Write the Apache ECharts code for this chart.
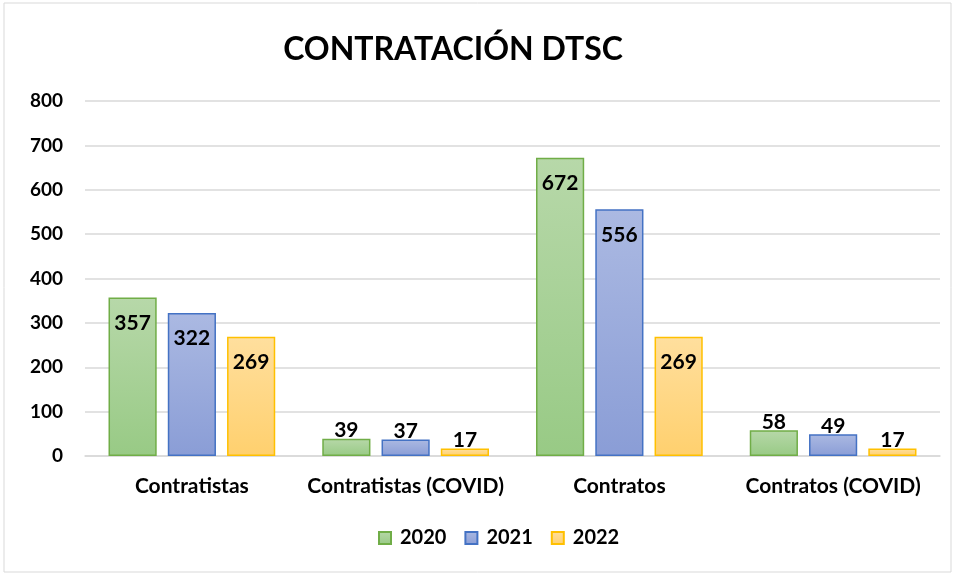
<!DOCTYPE html>
<html>
<head>
<meta charset="utf-8">
<script src="https://cdn.jsdelivr.net/npm/echarts@6/dist/echarts.min.js"></script>
<style>
  html, body { margin: 0; padding: 0; background: #fff; }
  #main { width: 956px; height: 575px; }
</style>
</head>
<body>
<div id="main"></div>
<script>
  // Data
  var categories = ['Contratistas', 'Contratistas (COVID)', 'Contratos', 'Contratos (COVID)'];
  var years = ['2020', '2021', '2022'];
  var values2020 = [357, 39, 672, 58];
  var values2021 = [322, 37, 556, 49];
  var values2022 = [269, 17, 269, 17];

  var fontFamily = 'Lato, "Open Sans", sans-serif';

  var styles = [
    { top: '#b7d8a9', bottom: '#98ca85', border: '#70ad47' },
    { top: '#abb9e2', bottom: '#8a9dd6', border: '#4472c4' },
    { top: '#ffdf9e', bottom: '#ffd06e', border: '#ffc000' }
  ];

  function gradient(s) {
    return new echarts.graphic.LinearGradient(0, 0, 0, 1, [
      { offset: 0, color: s.top },
      { offset: 1, color: s.bottom }
    ]);
  }

  // big bars get the label inside the top, small ones just above
  function buildData(values) {
    return values.map(function (v) {
      return {
        value: v,
        label: { position: v > 100 ? 'insideTop' : 'top', distance: v > 100 ? 15 : -2 }
      };
    });
  }

  function makeSeries(name, values, s) {
    return {
      name: name,
      type: 'bar',
      barGap: '23%',
      barCategoryGap: '22%',
      data: buildData(values),
      itemStyle: {
        color: gradient(s),
        borderColor: s.border,
        borderWidth: 1.5
      },
      label: {
        show: true,
        color: '#000',
        fontSize: 21,
        fontWeight: 'bold',
        fontFamily: fontFamily
      }
    };
  }

  var myChart = echarts.init(document.getElementById('main'));

  var option = {
    backgroundColor: '#fff',
    animation: false,
    title: {
      text: 'CONTRATACIÓN DTSC',
      left: 448,
      textAlign: 'center',
      top: 29,
      textStyle: {
        fontSize: 32,
        fontWeight: 'bold',
        color: '#000',
        fontFamily: fontFamily
      }
    },
    graphic: [{
      type: 'rect',
      shape: { x: 4, y: 3, width: 947, height: 569 },
      style: { fill: 'none', stroke: '#d9d9d9', lineWidth: 1 },
      silent: true
    }],
    legend: {
      bottom: 22,
      left: 373,
      itemWidth: 12,
      itemHeight: 12,
      itemGap: 18,
      icon: 'rect',
      textStyle: {
        fontSize: 20,
        fontWeight: 'bold',
        color: '#000',
        padding: [0, 0, 0, 4],
        fontFamily: fontFamily
      },
      data: years
    },
    grid: {
      left: 85,
      right: 16,
      top: 101,
      bottom: 119
    },
    xAxis: {
      type: 'category',
      data: categories,
      axisTick: { show: false },
      axisLine: { lineStyle: { color: '#d9d9d9', width: 1.5 } },
      axisLabel: {
        interval: 0,
        fontSize: 21,
        fontWeight: 'bold',
        color: '#000',
        margin: 20,
        fontFamily: fontFamily
      }
    },
    yAxis: {
      type: 'value',
      min: 0,
      max: 800,
      interval: 100,
      axisLine: { show: false },
      axisTick: { show: false },
      splitLine: { lineStyle: { color: '#d9d9d9', width: 1.5 } },
      axisLabel: {
        fontSize: 19,
        fontWeight: 'bold',
        color: '#000',
        margin: 22,
        fontFamily: fontFamily
      }
    },
    series: [
      makeSeries(years[0], values2020, styles[0]),
      makeSeries(years[1], values2021, styles[1]),
      makeSeries(years[2], values2022, styles[2])
    ]
  };

  myChart.setOption(option);
</script>
</body>
</html>
